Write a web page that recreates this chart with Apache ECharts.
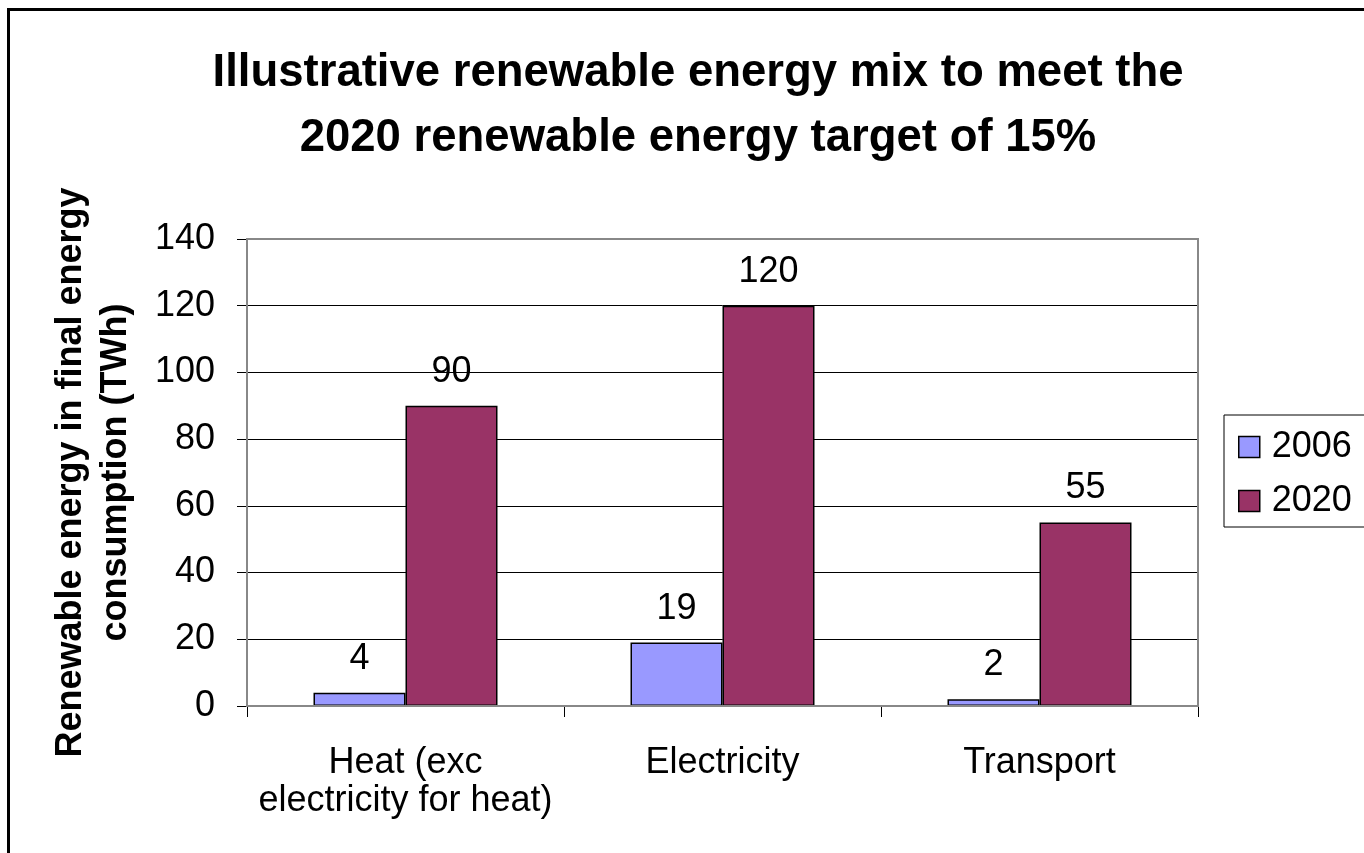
<!DOCTYPE html>
<html><head><meta charset="utf-8">
<script src="https://cdn.jsdelivr.net/npm/echarts@6/dist/echarts.min.js"></script>
<style>html,body{margin:0;padding:0;background:#fff}#c{width:1364px;height:853px}</style>
</head><body><div id="c"></div>
<script>
const categories = ['Heat (exc\nelectricity for heat)', 'Electricity', 'Transport'];
const series2006 = [4, 19, 2];
const series2020 = [90, 120, 55];
const seriesNames = ['2006', '2020'];
const titleText = 'Illustrative renewable energy mix to meet the\n2020 renewable energy target of 15%';
const yAxisName = 'Renewable energy in final energy\nconsumption (TWh)';

const chart = echarts.init(document.getElementById('c'), null, {renderer: 'canvas'});
const font = 'Arial, "Liberation Sans", sans-serif';
chart.setOption({
  animation: false,
  backgroundColor: '#fff',
  textStyle: {fontFamily: font},
  title: {
    text: titleText, left: 693, top: 36, textAlign: 'center',
    textStyle: {fontFamily: font, fontSize: 45.5, fontWeight: 'bold', color: '#000', lineHeight: 65}
  },
  legend: {
    orient: 'vertical', left: 1224, top: 415,
    data: seriesNames,
    icon: 'rect', itemWidth: 21, itemHeight: 21, itemGap: 18,
    padding: [14, 40, 8, 14],
    borderColor: '#000', borderWidth: 1,
    itemStyle: {borderColor: '#000', borderWidth: 1.5},
    textStyle: {fontFamily: font, fontSize: 36, color: '#000', padding: [0,0,0,7]}
  },
  grid: {left: 247, top: 239, width: 951, height: 467, show: true, borderColor: '#888', borderWidth: 2, z: 5},
  xAxis: {
    type: 'category', data: categories,
    axisLine: {lineStyle: {color: '#000', width: 1}},
    axisTick: {show: true, length: 11, lineStyle: {color: '#000'}},
    axisLabel: {interval: 0, hideOverlap: false, fontFamily: font, fontSize: 36, color: '#000', margin: 38, lineHeight: 38}
  },
  yAxis: {
    type: 'value', min: 0, max: 140, interval: 20,
    name: yAxisName, nameLocation: 'middle', nameGap: 108, nameRotate: 90,
    nameTextStyle: {fontFamily: font, fontSize: 36, fontWeight: 'bold', color: '#000', lineHeight: 45},
    axisLine: {show: true, lineStyle: {color: '#000'}},
    axisTick: {show: true, length: 10, lineStyle: {color: '#000'}},
    axisLabel: {fontFamily: font, fontSize: 36, color: '#000', margin: 32},
    splitLine: {lineStyle: {color: '#000', width: 1}}
  },
  series: [
    {name: seriesNames[0], type: 'bar', data: series2006, barWidth: 92, barGap: '0%',
     itemStyle: {color: '#9999FF', borderColor: '#000', borderWidth: 1.5},
     label: {show: true, position: 'top', distance: 16, fontFamily: font, fontSize: 36, color: '#000'}},
    {name: seriesNames[1], type: 'bar', data: series2020, barWidth: 92,
     itemStyle: {color: '#993366', borderColor: '#000', borderWidth: 1.5},
     label: {show: true, position: 'top', distance: 16, fontFamily: font, fontSize: 36, color: '#000'}}
  ],
  graphic: [{
    type: 'rect', shape: {x: 8.5, y: 9.5, width: 1500, height: 1000},
    style: {fill: null, stroke: '#000', lineWidth: 3}, silent: true, z: 100
  }]
});
</script></body></html>
